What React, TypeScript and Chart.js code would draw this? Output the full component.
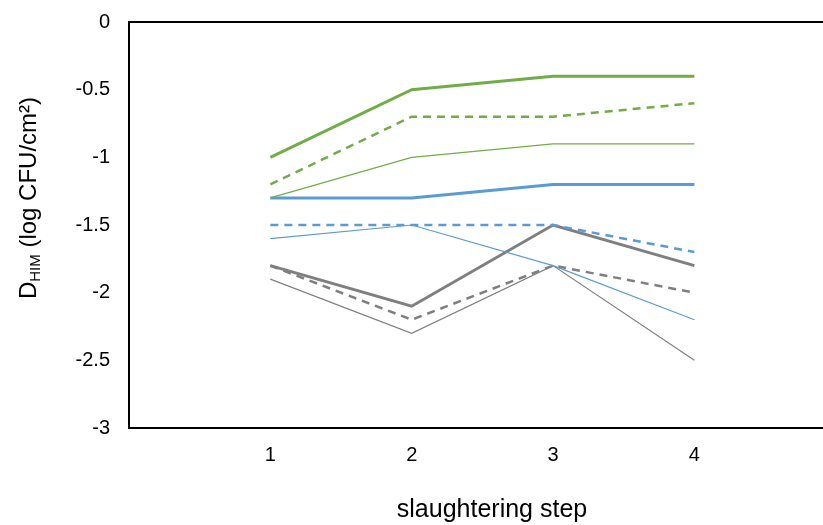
import React, { useEffect, useRef } from "react";
import { Chart, registerables } from "chart.js";

Chart.register(...registerables);

const steps = [1, 2, 3, 4];
const yTicks = [0, -0.5, -1, -1.5, -2, -2.5, -3];

const greenSolid = [-1.0, -0.5, -0.4, -0.4];
const greenDashed = [-1.2, -0.7, -0.7, -0.6];
const greenThin = [-1.3, -1.0, -0.9, -0.9];
const blueSolid = [-1.3, -1.3, -1.2, -1.2];
const blueDashed = [-1.5, -1.5, -1.5, -1.7];
const blueThin = [-1.6, -1.5, -1.8, -2.2];
const graySolid = [-1.8, -2.1, -1.5, -1.8];
const grayDashed = [-1.8, -2.2, -1.8, -2.0];
const grayThin = [-1.9, -2.3, -1.8, -2.5];

const GREEN = "#70AD47";
const BLUE = "#5B9BD5";
const GRAY = "#7F7F7F";
const FONT = "'Liberation Sans', Arial, sans-serif";

const pts = (vals: number[]) => steps.map((s, i) => ({ x: s, y: vals[i] }));

const mk = (label: string, vals: number[], color: string, kind: "solid" | "dashed" | "thin") => ({
  label,
  data: pts(vals),
  borderColor: color,
  backgroundColor: color,
  borderWidth: kind === "solid" ? 3 : kind === "dashed" ? 2.5 : 1.2,
  borderDash: kind === "dashed" ? [8, 6] : [],
  pointRadius: 0,
  tension: 0,
  fill: false,
});

const titlesPlugin = {
  id: "titles",
  afterDraw(chart: any) {
    const { ctx, chartArea } = chart;
    ctx.save();
    // top border
    ctx.strokeStyle = "#000";
    ctx.lineWidth = 2;
    ctx.beginPath();
    ctx.moveTo(chartArea.left - 1, chartArea.top);
    ctx.lineTo(chartArea.right, chartArea.top);
    ctx.stroke();

    // x title
    ctx.fillStyle = "#000";
    ctx.font = `25px ${FONT}`;
    ctx.textAlign = "center";
    ctx.textBaseline = "alphabetic";
    ctx.fillText("slaughtering step", 492, 517);

    // y title with subscript
    const big = `24px ${FONT}`;
    const small = `15px ${FONT}`;
    ctx.font = big;
    const wD = ctx.measureText("D").width;
    const wRest = ctx.measureText(" (log CFU/cm²)").width;
    ctx.font = small;
    const wSub = ctx.measureText("HIM").width;
    const total = wD + wSub + wRest;
    ctx.translate(36, 198);
    ctx.rotate(-Math.PI / 2);
    ctx.textAlign = "left";
    let x = -total / 2;
    ctx.font = big;
    ctx.fillText("D", x, 0);
    x += wD;
    ctx.font = small;
    ctx.fillText("HIM", x, 4);
    x += wSub;
    ctx.font = big;
    ctx.fillText(" (log CFU/cm²)", x, 0);
    ctx.restore();
  },
};

export default function App() {
  const ref = useRef<HTMLCanvasElement>(null);
  useEffect(() => {
    document.body.style.margin = "0";
    const chart = new Chart(ref.current!, {
      type: "line",
      data: {
        datasets: [
          mk("green solid", greenSolid, GREEN, "solid"),
          mk("green dashed", greenDashed, GREEN, "dashed"),
          mk("green thin", greenThin, GREEN, "thin"),
          mk("blue solid", blueSolid, BLUE, "solid"),
          mk("blue dashed", blueDashed, BLUE, "dashed"),
          mk("blue thin", blueThin, BLUE, "thin"),
          mk("gray solid", graySolid, GRAY, "solid"),
          mk("gray dashed", grayDashed, GRAY, "dashed"),
          mk("gray thin", grayThin, GRAY, "thin"),
        ],
      },
      options: {
        responsive: false,
        animation: false,
        devicePixelRatio: 1,
        layout: { padding: { top: 22, right: 0, left: 0, bottom: 0 } },
        plugins: { legend: { display: false }, tooltip: { enabled: false } },
        scales: {
          x: {
            type: "linear",
            min: 0,
            max: 4.91,
            afterBuildTicks: (s: any) => {
              s.ticks = steps.map((v) => ({ value: v }));
            },
            afterFit: (s: any) => {
              s.height = 97;
              s.paddingLeft = 0;
              s.paddingRight = 0;
            },
            grid: { display: true, color: "rgba(0,0,0,0)", drawTicks: false },
            border: { display: true, color: "#000", width: 2 },
            ticks: {
              padding: 15,
              color: "#000",
              font: { family: FONT, size: 20 },
              maxRotation: 0,
              autoSkip: false,
            },
          },
          y: {
            type: "linear",
            min: -3,
            max: 0,
            afterBuildTicks: (s: any) => {
              s.ticks = yTicks.map((v) => ({ value: v }));
            },
            afterFit: (s: any) => {
              s.width = 129;
              s.paddingTop = 0;
              s.paddingBottom = 0;
            },
            grid: { display: true, color: "rgba(0,0,0,0)", drawTicks: false },
            border: { display: true, color: "#000", width: 2 },
            ticks: {
              padding: 19,
              color: "#000",
              font: { family: FONT, size: 20 },
              callback: (v: any) => String(v),
            },
          },
        },
      },
      plugins: [titlesPlugin],
    });
    return () => chart.destroy();
  }, []);
  return (
    <div style={{ width: 823, height: 525 }}>
      <canvas ref={ref} width={823} height={525} style={{ display: "block" }} />
    </div>
  );
}
